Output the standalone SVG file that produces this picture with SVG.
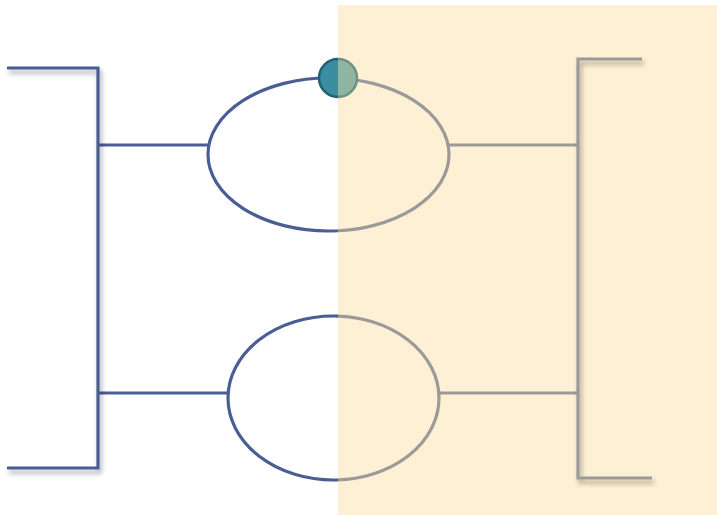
<svg xmlns="http://www.w3.org/2000/svg" width="717" height="515" viewBox="0 0 717 515">
  <style>
    .ln { fill: none; stroke-width: 3.2; stroke-linecap: butt; stroke-linejoin: miter; }
    .blue { stroke: #4a5d95; }
    .grey { stroke: #9b9a98; }
  </style>
  <defs>
    <clipPath id="cl"><rect x="0" y="0" width="338" height="515"/></clipPath>
    <clipPath id="cr"><rect x="338" y="0" width="379" height="515"/></clipPath>
    <filter id="sh" x="-20%" y="-20%" width="140%" height="140%">
      <feGaussianBlur in="SourceAlpha" stdDeviation="2.5"/>
      <feOffset dx="2" dy="4" result="b"/>
      <feComponentTransfer><feFuncA type="linear" slope="0.35"/></feComponentTransfer>
      <feMerge><feMergeNode/><feMergeNode in="SourceGraphic"/></feMerge>
    </filter>
  </defs>
  <rect id="background" x="0" y="0" width="717" height="515" fill="#ffffff"/>
  <rect id="overlay" x="338" y="5" width="379" height="510" fill="#fef0d4"/>

  <g id="connectors">
    <g clip-path="url(#cl)">
      <line class="ln blue" x1="98" y1="145" x2="209" y2="145"/>
      <line class="ln blue" x1="98" y1="393" x2="229" y2="393"/>
    </g>
    <g clip-path="url(#cr)">
      <line class="ln grey" x1="448" y1="145" x2="578" y2="145"/>
      <line class="ln grey" x1="438" y1="393" x2="578" y2="393"/>
    </g>
  </g>

  <g id="left-bracket" filter="url(#sh)">
    <polyline class="ln blue" points="7,68 98,68 98,468 7,468"/>
  </g>

  <g id="right-bracket" filter="url(#sh)">
    <polyline class="ln grey" points="642,59 578,59 578,478 652,478"/>
  </g>

  <g id="ellipse-top">
    <ellipse class="ln blue" clip-path="url(#cl)" cx="328.5" cy="154.5" rx="120.5" ry="76.5"/>
    <ellipse class="ln grey" clip-path="url(#cr)" cx="328.5" cy="154.5" rx="120.5" ry="76.5"/>
  </g>

  <g id="ellipse-bottom">
    <ellipse class="ln blue" clip-path="url(#cl)" cx="333.5" cy="398" rx="105.5" ry="82"/>
    <ellipse class="ln grey" clip-path="url(#cr)" cx="333.5" cy="398" rx="105.5" ry="82"/>
  </g>

  <g id="dot">
    <circle clip-path="url(#cl)" cx="338" cy="78" r="19" fill="#3a8ea1" stroke="#23616f" stroke-width="2.5"/>
    <circle clip-path="url(#cr)" cx="338" cy="78" r="19" fill="#8fb5a0" stroke="#6e9282" stroke-width="2.5"/>
  </g>
</svg>
